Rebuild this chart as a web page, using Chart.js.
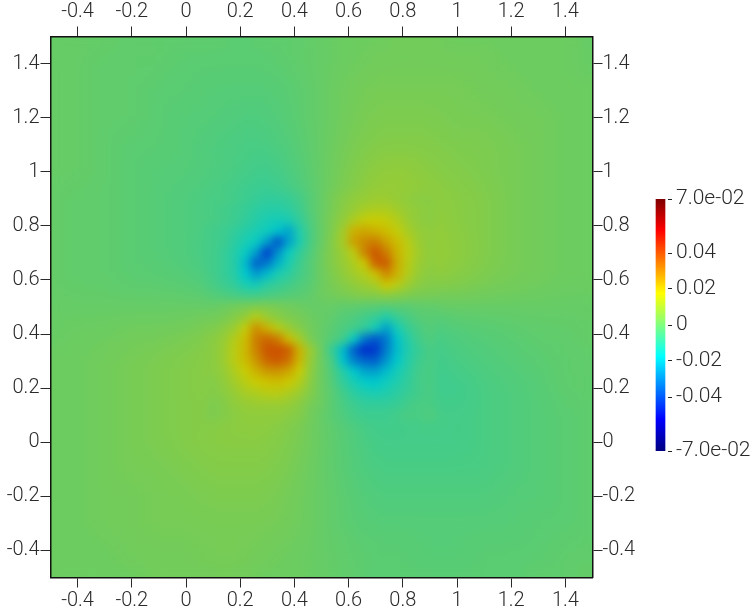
<!DOCTYPE html>
<html lang="en">
<head>
    <meta charset="UTF-8">
    <title>Field map</title>
    <style>
        body { margin: 0; background: #fff; overflow: hidden; }
        canvas { position: absolute; }
        #fieldChart { left: 0; top: 0; }
        #barChart { left: 640px; top: 180px; }
    </style>
</head>
<body>
    <canvas id="fieldChart" width="754" height="608"></canvas>
    <canvas id="barChart" width="114" height="290"></canvas>

    <script src="https://cdn.jsdelivr.net/npm/chart.js"></script>
    <script>
        // tick positions and labels
        const axisTicks = [-0.4, -0.2, 0, 0.2, 0.4, 0.6, 0.8, 1, 1.2, 1.4];
        const axisLabels = ['-0.4', '-0.2', '0', '0.2', '0.4', '0.6', '0.8', '1', '1.2', '1.4'];
        const barTicks = [-0.07, -0.04, -0.02, 0, 0.02, 0.04, 0.07];
        const barLabels = ['-7.0e-02', '-0.04', '-0.02', '0', '0.02', '0.04', '7.0e-02'];
        const barRange = [[-0.07, 0.07]];

        // jet colour map: value, r, g, b
        const jetStops = [
            [-0.07, 0, 0, 127],
            [-0.0525, 0, 0, 255],
            [-0.0175, 0, 255, 255],
            [0.0175, 255, 255, 0],
            [0.0525, 255, 0, 0],
            [0.07, 127, 0, 0]
        ];

        // coarse field over the whole square, in units of 1e-3, rows run top to bottom
        const outerX = [-0.5, -0.4, -0.3, -0.2, -0.1, 0, 0.1, 0.2, 0.3, 0.4, 0.5, 0.6, 0.7, 0.8, 0.9, 1, 1.1, 1.2, 1.3, 1.4, 1.5];
        const outerY = [1.5, 1.4, 1.3, 1.2, 1.1, 1, 0.9, 0.8, 0.7, 0.6, 0.5, 0.4, 0.3, 0.2, 0.1, 0, -0.1, -0.2, -0.3, -0.4, -0.5];
        const outerField = [
            [0,0,0,-1,-1,-1,-1,-2,-1,-1,0,1,1,2,2,1,1,1,1,1,0],
            [0,0,-1,-1,-1,-2,-2,-2,-2,-1,0,1,2,2,2,2,2,1,1,1,0],
            [0,0,-1,-1,-2,-2,-3,-3,-3,-2,0,2,3,3,3,3,2,2,1,1,1],
            [0,0,-1,-1,-2,-3,-3,-4,-4,-2,0,2,4,4,4,3,3,2,2,1,1],
            [0,0,-1,-2,-2,-3,-4,-5,-5,-3,0,3,5,5,5,4,4,3,2,1,1],
            [0,0,-1,-2,-3,-3,-4,-5,-7,-4,0,4,7,8,6,5,4,3,2,1,1],
            [0,-1,-1,-2,-3,-4,-5,-7,-9,-6,0,5,9,8,7,6,5,3,2,1,1],
            [0,-1,-1,-2,-3,-4,-5,-7,-14,-9,0,7,15,12,8,6,5,3,2,1,1],
            [0,-1,-1,-2,-3,-4,-6,-16,-38,-9,1,9,35,13,9,7,5,3,2,1,1],
            [0,-1,-1,-2,-2,-3,-5,-12,-13,-5,1,5,14,12,7,6,4,3,2,1,1],
            [0,0,0,0,0,0,0,3,4,1,0,-1,-4,-3,-1,0,0,0,0,0,0],
            [0,1,1,2,2,3,5,16,20,5,0,-5,-13,-15,-6,-4,-3,-2,-1,-1,0],
            [1,1,2,3,4,5,6,18,31,7,1,-14,-33,-16,-7,-5,-4,-3,-2,-1,-1],
            [1,1,2,3,4,5,6,10,14,4,1,-7,-14,-9,-7,-7,-5,-4,-3,-1,-1],
            [1,1,2,3,4,5,5,7,7,5,0,-4,-7,-6,-5,-6,-5,-4,-3,-2,-1],
            [1,1,2,3,4,5,6,6,6,4,0,-3,-6,-6,-6,-6,-5,-4,-3,-2,-1],
            [1,1,2,3,3,4,5,5,5,3,0,-3,-5,-5,-5,-5,-5,-4,-3,-2,-1],
            [1,1,2,2,3,3,4,4,4,2,0,-2,-4,-4,-4,-4,-4,-3,-3,-2,-1],
            [1,1,2,2,3,3,3,3,3,2,0,-2,-3,-3,-3,-3,-3,-3,-2,-2,-1],
            [1,1,1,2,2,2,3,3,2,1,0,-1,-2,-2,-3,-3,-2,-2,-2,-1,-1],
            [1,1,1,1,2,2,2,2,1,1,0,-1,-2,-2,-2,-2,-2,-2,-1,-1,0]
        ];

        // finer field around the four lobes, same units
        const innerX = [0.1, 0.14, 0.18, 0.22, 0.26, 0.3, 0.34, 0.38, 0.42, 0.46, 0.5, 0.54, 0.58, 0.62, 0.66, 0.7, 0.74, 0.78, 0.82, 0.86, 0.9];
        const innerY = [0.9, 0.86, 0.82, 0.78, 0.74, 0.7, 0.66, 0.62, 0.58, 0.54, 0.5, 0.46, 0.42, 0.38, 0.34, 0.3, 0.26, 0.22, 0.18, 0.14, 0.1];
        const innerField = [
            [-5,-5,-6,-7,-8,-9,-9,-8,-6,-3,0,3,5,7,8,9,9,8,7,6,6],
            [-5,-6,-7,-8,-10,-11,-11,-10,-7,-3,0,3,6,8,11,12,12,10,8,7,6],
            [-5,-6,-7,-9,-11,-13,-14,-13,-9,-4,0,4,7,12,16,17,16,13,9,7,6],
            [-6,-7,-9,-11,-13,-15,-19,-24,-12,-5,0,4,10,22,24,22,20,16,11,8,7],
            [-6,-7,-10,-13,-16,-25,-38,-25,-13,-5,0,5,11,25,29,31,25,20,14,9,7],
            [-6,-8,-11,-16,-25,-42,-28,-16,-9,-4,1,5,9,15,30,38,31,22,15,10,7],
            [-6,-8,-11,-20,-36,-32,-22,-13,-7,-3,1,5,8,12,18,36,37,23,14,9,7],
            [-6,-8,-11,-18,-26,-20,-13,-10,-6,-3,1,4,7,10,13,19,29,22,13,8,6],
            [-5,-7,-9,-13,-14,-10,-8,-6,-4,-2,1,3,5,7,9,11,18,14,9,6,5],
            [-3,-4,-5,-6,-6,-5,-4,-3,-2,-1,1,2,3,4,5,5,6,5,4,3,3],
            [0,1,2,3,4,4,3,2,1,0,0,0,-1,-1,-2,-2,-3,-2,-2,-1,-1],
            [2,3,5,8,14,9,6,4,3,1,0,-1,-3,-4,-6,-8,-12,-8,-5,-3,-2],
            [4,6,9,16,28,22,14,9,5,2,0,-2,-4,-6,-9,-14,-25,-14,-8,-5,-3],
            [6,8,13,20,31,35,31,20,11,3,0,-3,-6,-16,-32,-38,-32,-19,-11,-6,-4],
            [6,9,14,21,30,38,39,36,22,9,1,-8,-20,-36,-45,-43,-31,-20,-12,-8,-5],
            [6,9,14,20,27,35,37,33,21,8,1,-5,-19,-30,-35,-36,-27,-18,-11,-7,-5],
            [6,8,12,17,22,26,27,24,17,7,1,-4,-11,-18,-24,-25,-20,-14,-10,-6,-5],
            [5,7,10,14,17,19,20,18,13,6,1,-3,-9,-13,-17,-18,-15,-12,-9,-6,-5],
            [5,6,8,11,12,14,14,12,9,5,1,-2,-6,-10,-12,-13,-12,-10,-8,-6,-5],
            [4,5,7,8,9,9,9,8,6,3,1,-2,-5,-7,-9,-9,-9,-8,-6,-5,-5],
            [4,5,6,7,7,7,7,6,5,2,0,-2,-4,-6,-7,-7,-7,-6,-5,-5,-4]
        ];

        const tickColor = '#2a2a2a';
        const tickFont = { family: "Roboto, sans-serif", size: 20, weight: '300' };
        const barFont = { family: "Roboto, sans-serif", size: 21, weight: '300' };

        // the surface is lit, so its colours are a bit darker than the bar
        function jetColor(v, dim) {
            let i = 0;
            while (i < jetStops.length - 2 && v > jetStops[i + 1][0]) i++;
            const a = jetStops[i], b = jetStops[i + 1];
            const t = Math.min(1, Math.max(0, (v - a[0]) / (b[0] - a[0])));
            const c = [1, 2, 3].map(k => Math.round((a[k] + (b[k] - a[k]) * t) * dim));
            return `rgb(${c[0]},${c[1]},${c[2]})`;
        }

        function toPoints(xs, ys, rows) {
            const pts = [];
            ys.forEach((y, r) => xs.forEach((x, c) => pts.push({ x: x, y: y, v: rows[r][c] / 1000 })));
            return pts;
        }

        function cellDataset(points, step) {
            return {
                data: points,
                showLine: false,
                pointStyle: 'rect',
                borderWidth: 0,
                pointBorderWidth: 0,
                // rect half side is radius * sqrt(1/2)
                pointRadius: ctx => {
                    const s = ctx.chart.scales.x;
                    return (Math.abs(s.getPixelForValue(step) - s.getPixelForValue(0)) / 2 + 0.5) / Math.SQRT1_2;
                },
                pointBackgroundColor: ctx => jetColor(ctx.raw.v, 0.8)
            };
        }

        function blurArea(chart, px) {
            const a = chart.chartArea, c = chart.ctx;
            const w = a.right - a.left, h = a.bottom - a.top;
            c.save();
            c.beginPath();
            c.rect(a.left, a.top, w, h);
            c.clip();
            c.filter = `blur(${px}px)`;
            c.drawImage(chart.canvas, a.left, a.top, w, h, a.left, a.top, w, h);
            c.restore();
        }

        // smooth the cells once they are on the canvas
        const smoothCells = {
            id: 'smoothCells',
            afterDatasetDraw(chart, args) {
                blurArea(chart, args.index === 1 ? 13 : 4.5);
            }
        };

        function squareAxis(position, size, tickLength, padding) {
            const horizontal = position === 'top' || position === 'bottom';
            return {
                type: 'linear',
                axis: horizontal ? 'x' : 'y',
                position: position,
                min: -0.5,
                max: 1.5,
                afterBuildTicks: s => { s.ticks = axisTicks.map(v => ({ value: v })); },
                afterFit: s => { if (horizontal) s.height = size; else s.width = size; },
                border: { display: true, color: '#111', width: 1.5, z: 1 },
                grid: { drawOnChartArea: false, color: tickColor, tickLength: tickLength, z: -1 },
                ticks: {
                    color: tickColor,
                    font: tickFont,
                    padding: padding,
                    autoSkip: false,
                    maxRotation: 0,
                    callback: (v, i) => axisLabels[i]
                }
            };
        }

        new Chart(document.getElementById('fieldChart'), {
            type: 'scatter',
            data: {
                datasets: [
                    cellDataset(toPoints(innerX, innerY, innerField), 0.04),
                    cellDataset(toPoints(outerX, outerY, outerField), 0.1)
                ]
            },
            options: {
                responsive: false,
                animation: false,
                events: [],
                layout: { padding: 0 },
                plugins: { legend: { display: false }, tooltip: { enabled: false } },
                scales: {
                    x: squareAxis('bottom', 30.5, 10, 1),
                    x2: squareAxis('top', 36.5, 10, 3),
                    y: squareAxis('left', 50.5, 10, 1),
                    y2: squareAxis('right', 161.5, 10, 0)
                }
            },
            plugins: [smoothCells]
        });

        new Chart(document.getElementById('barChart'), {
            type: 'bar',
            data: {
                labels: [''],
                datasets: [{
                    data: barRange,
                    barThickness: 9,
                    backgroundColor: ctx => {
                        const s = ctx.chart.scales.y;
                        const top = s.getPixelForValue(0.07), bottom = s.getPixelForValue(-0.07);
                        if (!Number.isFinite(top) || !Number.isFinite(bottom)) return '#00f';
                        const g = ctx.chart.ctx.createLinearGradient(0, bottom, 0, top);
                        jetStops.forEach(st => g.addColorStop((st[0] + 0.07) / 0.14, `rgb(${st[1]},${st[2]},${st[3]})`));
                        return g;
                    }
                }]
            },
            options: {
                responsive: false,
                animation: false,
                events: [],
                layout: { padding: { left: 13, top: 19, bottom: 19 } },
                plugins: { legend: { display: false }, tooltip: { enabled: false } },
                scales: {
                    x: { display: false },
                    y: {
                        position: 'right',
                        min: -0.07,
                        max: 0.07,
                        afterBuildTicks: s => { s.ticks = barTicks.map(v => ({ value: v })); },
                        afterFit: s => { s.width = 86; },
                        border: { display: false },
                        grid: { drawOnChartArea: false, color: '#222', tickLength: 4 },
                        ticks: {
                            color: tickColor,
                            font: barFont,
                            padding: 4,
                            autoSkip: false,
                            callback: (v, i) => barLabels[i]
                        }
                    }
                }
            }
        });
    </script>
</body>
</html>
